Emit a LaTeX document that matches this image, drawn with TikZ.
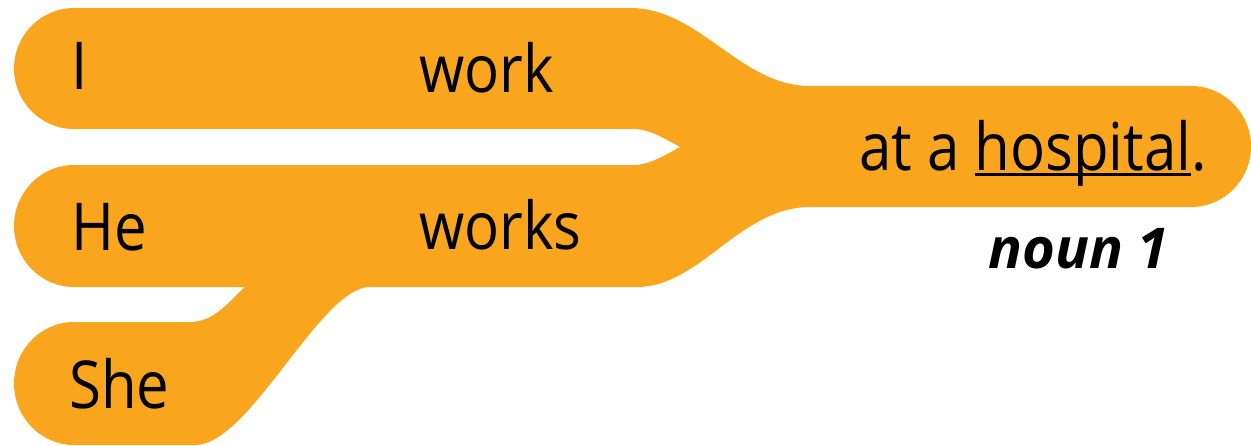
\documentclass[tikz,border=0pt]{standalone}
\usepackage{fontspec}
\setmainfont[FakeStretch=0.88]{Open Sans}
\newfontfamily\labelfont{Open Sans}
\usepackage{tikz}
\usetikzlibrary{positioning}
\definecolor{ForkOrange}{HTML}{F9A61E}
\newlength\ulwd
\newcommand\lowul[1]{\settowidth{\ulwd}{#1}\rlap{\rule[-0.08em]{\ulwd}{0.045em}}#1}

\begin{document}
\begin{tikzpicture}[x=0.02cm, y=-0.02cm, every node/.style={font=\fontsize{37.6}{44}\selectfont, inner sep=0pt, anchor=base west}]
    \useasboundingbox (0,0) rectangle (1251,446);
    % the fork: three rows joining into one
    \fill[ForkOrange] (74,8) -- (630,8) .. controls (700,8) and (740,86) .. (810,86)
      -- (1191,86) arc[start angle=90, end angle=-90, x radius=60, y radius=-60.5]
      -- (810,207) .. controls (740,207) and (700,287) .. (637,287)
      -- (370,287) .. controls (320,287) and (250,445) .. (195,445)
      -- (74,445) arc[start angle=270, end angle=90, x radius=60, y radius=-61.5]
      -- (190,322) .. controls (215,322) and (230,300) .. (245,287)
      -- (74,287) arc[start angle=270, end angle=90, x radius=60, y radius=-61]
      -- (633,165) .. controls (650,165) and (665,155) .. (680,147)
      .. controls (665,139) and (650,129) .. (633,129)
      -- (74,129) arc[start angle=270, end angle=90, x radius=60, y radius=-60.5] -- cycle;
    \node (i) at (71,90) {I};
    \node (work) at (419,92) {work};
    \node (he) at (71,250) {He};
    \node (works) at (419,249) {works};
    \node (she) at (69,408) {She};
    \node (hospital) at (859,171) {at a \lowul{hospital}.};
    \node[font=\fontsize{32}{38}\selectfont\labelfont\bfseries\itshape] (noun) at (988,268) {noun 1};
  \end{tikzpicture}
\end{document}
